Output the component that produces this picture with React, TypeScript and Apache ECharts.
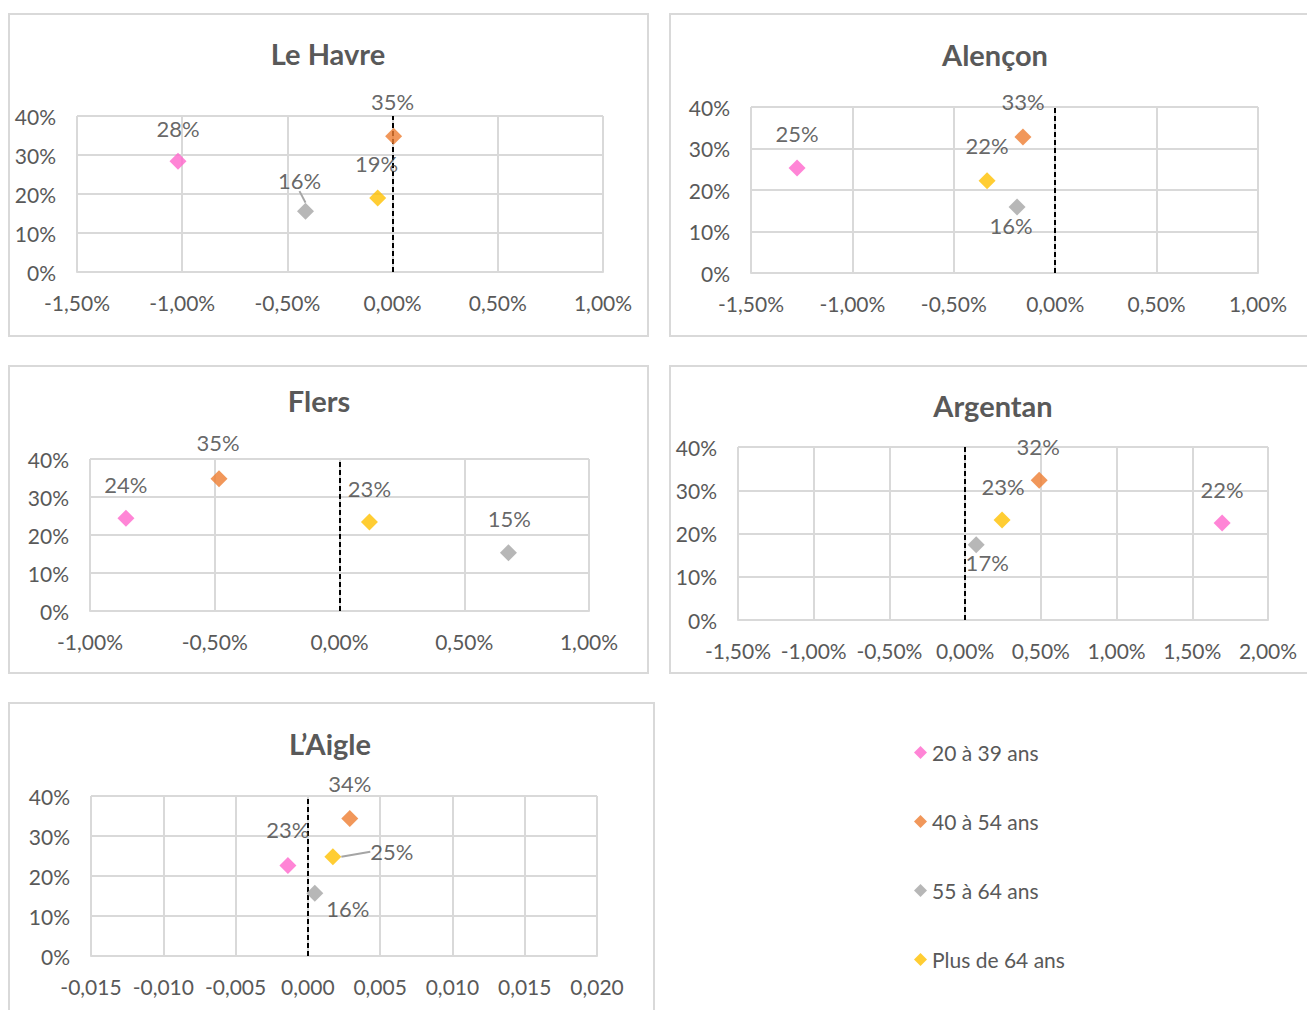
import React, { useEffect, useRef } from "react";
import * as echarts from "echarts";

// ---------- DATA ----------
const AGE_GROUPS = ["20 à 39 ans", "40 à 54 ans", "55 à 64 ans", "Plus de 64 ans"];
const COLORS = ["#FF66CC", "#ED7D31", "#A5A5A5", "#FFC000"];

const TITLES = ["Le Havre", "Alençon", "Flers", "Argentan", "L’Aigle"];

// x = évolution, y = part ; order follows AGE_GROUPS
const leHavreX = [-0.0102, 0.00005, -0.00414, -0.00071];
const leHavreY = [0.284, 0.348, 0.156, 0.19];

const alenconX = [-0.01273, -0.00159, -0.00188, -0.00336];
const alenconY = [0.253, 0.328, 0.159, 0.222];

const flersX = [-0.00856, -0.00483, 0.00677, 0.0012];
const flersY = [0.244, 0.348, 0.153, 0.234];

const argentanX = [0.01697, 0.00489, 0.00073, 0.00244];
const argentanY = [0.224, 0.323, 0.174, 0.231];

const laigleX = [-0.00138, 0.0029, 0.00048, 0.00173];
const laigleY = [0.226, 0.344, 0.157, 0.248];

const X_RANGES = [
  [-0.015, 0.01],
  [-0.015, 0.01],
  [-0.01, 0.01],
  [-0.015, 0.02],
  [-0.015, 0.02],
];
const X_INTERVAL = 0.005;
const Y_MIN = 0;
const Y_MAX = 0.4;
const Y_INTERVAL = 0.1;

// ---------- LAYOUT / STYLE ----------
const FONT = "Lato, 'Open Sans', sans-serif";
const TEXT = "#595959";
const GRID_COLOR = "#D9D9D9";

const GRIDS = [
  { left: 77, top: 116, width: 526, height: 156 },
  { left: 751, top: 107, width: 507, height: 166 },
  { left: 90, top: 459, width: 499, height: 152 },
  { left: 738, top: 447, width: 530, height: 173 },
  { left: 91, top: 796, width: 506, height: 160 },
];
const BOXES = [
  { x: 9, y: 14, w: 639, h: 322 },
  { x: 670, y: 14, w: 645, h: 322 },
  { x: 9, y: 366, w: 639, h: 307 },
  { x: 670, y: 366, w: 645, h: 307 },
  { x: 9, y: 703, w: 645, h: 320 },
];
const TITLE_POS = [
  [328, 53],
  [995, 54],
  [319, 400],
  [993, 405],
  [330, 743],
];
// label offsets (dx, dy) relative to marker, and leader line flag
const LABEL_OFFSETS: [number, number, boolean][][] = [
  [[0, -33, false], [-1, -35, false], [-6, -31, true], [-1, -34, false]],
  [[0, -35, false], [0, -35, false], [-6, 18, false], [0, -35, false]],
  [[0, -34, false], [-1, -36, false], [1, -34, false], [0, -34, false]],
  [[0, -34, false], [-1, -34, false], [11, 18, false], [1, -34, false]],
  [[0, -36, false], [0, -35, false], [33, 15, false], [59, -5, true]],
];

const clean = (v: number) => (Math.abs(v) < 1e-10 ? 0 : v);
const fmtPct2 = (v: number) => (clean(v) * 100).toFixed(2).replace(".", ",") + "%";
const fmtDec3 = (v: number) => clean(v).toFixed(3).replace(".", ",");

export default function App() {
  const ref = useRef<HTMLDivElement>(null);

  useEffect(() => {
    if (!ref.current) return;
    const chart = echarts.init(ref.current, undefined, { renderer: "svg" });

    const XS = [leHavreX, alenconX, flersX, argentanX, laigleX];
    const YS = [leHavreY, alenconY, flersY, argentanY, laigleY];

    const grid = GRIDS.map((g) => ({ ...g, containLabel: false, outerBoundsMode: "none" }));

    const xAxis = X_RANGES.map((r, i) => ({
      type: "value",
      gridIndex: i,
      min: r[0],
      max: r[1],
      interval: X_INTERVAL,
      axisLine: { show: true, onZero: false, lineStyle: { color: GRID_COLOR, width: 2 } },
      axisTick: { show: false },
      splitLine: { show: true, lineStyle: { color: GRID_COLOR, width: 2 } },
      axisLabel: {
        formatter: i === 4 ? fmtDec3 : fmtPct2,
        color: TEXT,
        fontSize: 21,
        fontFamily: FONT,
        margin: 20,
        showMinLabel: true,
        showMaxLabel: true,
      },
    }));

    const yAxis = X_RANGES.map((_, i) => ({
      type: "value",
      gridIndex: i,
      min: Y_MIN,
      max: Y_MAX,
      interval: Y_INTERVAL,
      axisLine: { show: false, onZero: false },
      axisTick: { show: false },
      splitLine: { show: true, lineStyle: { color: GRID_COLOR, width: 2 } },
      axisLabel: {
        formatter: (v: number) => Math.round(v * 100) + "%",
        color: TEXT,
        fontSize: 21,
        fontFamily: FONT,
        margin: 21,
        padding: [0, 0, 4, 0],
      },
    }));

    const series: any[] = [];
    XS.forEach((xs, pi) => {
      xs.forEach((xv, gi) => {
        const [dx, dy, leader] = LABEL_OFFSETS[pi][gi];
        const s: any = {
          type: "scatter",
          name: AGE_GROUPS[gi],
          xAxisIndex: pi,
          yAxisIndex: pi,
          symbol: "diamond",
          symbolSize: 17,
          itemStyle: { color: COLORS[gi] },
          data: [[xv, YS[pi][gi]]],
          z: 4,
          label: {
            show: true,
            position: "inside",
            formatter: (p: any) => Math.round(p.value[1] * 100) + "%",
            color: "#404040",
            fontSize: 22,
            fontFamily: FONT,
          },
          labelLayout: { dx, dy },
          labelLine: {
            show: leader,
            lineStyle: { color: "#A5A5A5", width: 2 },
          },
        };
        if (gi === 0) {
          s.markLine = {
            silent: true,
            symbol: ["none", "none"],
            label: { show: false },
            lineStyle: { color: "#000000", type: [5, 3], width: 2 },
            data: [{ xAxis: 0 }],
            z: 3,
          };
        }
        series.push(s);
      });
    });

    const graphic: any[] = [];
    BOXES.forEach((b) => {
      graphic.push({
        type: "rect",
        shape: { x: b.x, y: b.y, width: b.w, height: b.h },
        style: { fill: "none", stroke: GRID_COLOR, lineWidth: 2 },
        silent: true,
        z: -10,
      });
    });
    TITLES.forEach((t, i) => {
      graphic.push({
        type: "text",
        x: TITLE_POS[i][0],
        y: TITLE_POS[i][1],
        style: {
          text: t,
          fill: TEXT,
          font: `bold 29px ${FONT}`,
          textAlign: "center",
          textVerticalAlign: "middle",
        },
        silent: true,
      });
    });

    chart.setOption({
      animation: false,
      backgroundColor: "#FFFFFF",
      grid,
      xAxis,
      yAxis,
      series,
      graphic,
      legend: {
        data: AGE_GROUPS.map((n) => ({ name: n, icon: "diamond" })),
        orient: "vertical",
        left: 909,
        top: 737,
        itemWidth: 13,
        itemHeight: 13,
        itemGap: 48,
        textStyle: { color: TEXT, fontSize: 21, fontFamily: FONT },
        selectedMode: false,
      },
    });

    return () => chart.dispose();
  }, []);

  return (
    <div
      ref={ref}
      style={{ position: "absolute", left: 0, top: 0, width: 1307, height: 1010, background: "#fff" }}
    />
  );
}
